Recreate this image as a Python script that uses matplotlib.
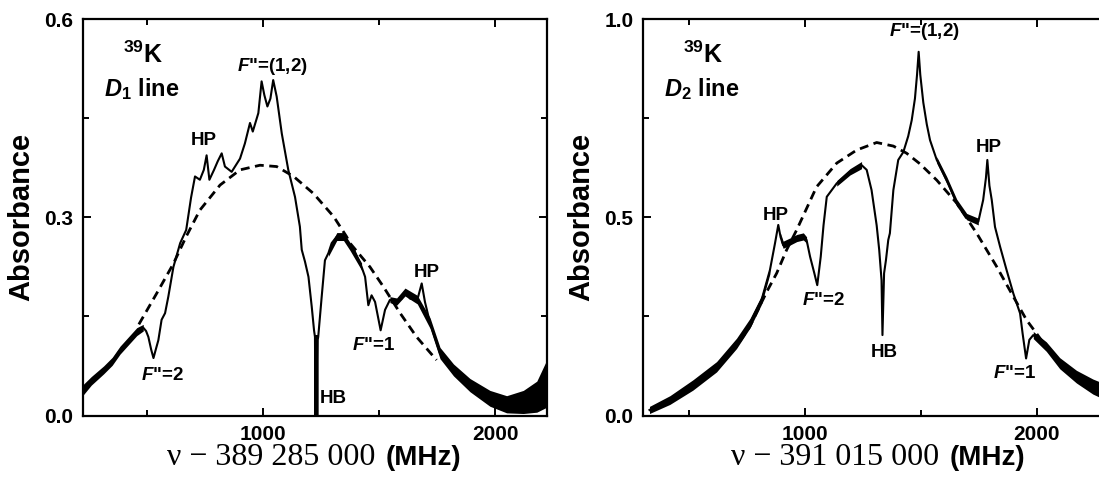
import matplotlib
matplotlib.use("Agg")
import matplotlib.pyplot as plt
from matplotlib.ticker import FixedLocator, FormatStrFormatter

# ---------------- D1 line (left panel) ----------------
d1_x = [225, 260, 313, 350, 384, 420, 456, 470, 484, 496, 506, 518, 528, 538, 549,
        563, 578, 592, 614, 643, 669, 690, 707, 728, 745, 757, 769, 789, 805, 822,
        836, 865, 901, 922, 944, 956, 980, 994, 1006, 1019, 1032, 1044, 1059, 1081,
        1109, 1138, 1159, 1167, 1181, 1196, 1210, 1220, 1224, 1226, 1228, 1230, 1232,
        1234, 1236, 1238, 1253, 1267, 1282, 1296, 1318, 1347, 1375, 1390, 1425, 1440,
        1454, 1468, 1483, 1507, 1526, 1547, 1576, 1598, 1612, 1634, 1665, 1684, 1698,
        1720, 1763, 1821, 1892, 1978, 2050, 2122, 2180, 2220]
d1_y = [0.039, 0.052, 0.069, 0.082, 0.099, 0.113, 0.127, 0.131, 0.133, 0.128, 0.119,
        0.100, 0.087, 0.100, 0.114, 0.145, 0.155, 0.180, 0.225, 0.261, 0.281, 0.330,
        0.362, 0.357, 0.372, 0.394, 0.357, 0.372, 0.385, 0.397, 0.377, 0.369, 0.389,
        0.412, 0.443, 0.430, 0.458, 0.506, 0.485, 0.468, 0.480, 0.508, 0.483, 0.427,
        0.372, 0.331, 0.286, 0.251, 0.233, 0.210, 0.165, 0.129, 0.119, 0.0, 0.120,
        0.0, 0.120, 0.0, 0.115, 0.119, 0.180, 0.235, 0.246, 0.261, 0.271, 0.271,
        0.256, 0.253, 0.225, 0.210, 0.167, 0.182, 0.172, 0.129, 0.160, 0.175, 0.172,
        0.177, 0.187, 0.177, 0.175, 0.200, 0.172, 0.140, 0.094, 0.069, 0.046, 0.026,
        0.016, 0.021, 0.028, 0.051]

# Doppler profile (dashed)
d1_fit_x = [465, 542, 614, 669, 728, 815, 901, 987, 1059, 1132, 1218, 1305, 1360,
            1375, 1461, 1519, 1591, 1662, 1748]
d1_fit_y = [0.138, 0.185, 0.230, 0.271, 0.311, 0.349, 0.372, 0.379, 0.377, 0.362,
            0.336, 0.301, 0.271, 0.261, 0.225, 0.195, 0.155, 0.119, 0.084]

# noise envelope
d1_noise = [
    ([225, 260, 313, 350, 384, 420, 456, 484],
     [0.031, 0.046, 0.063, 0.076, 0.093, 0.107, 0.121, 0.128],
     [0.047, 0.059, 0.075, 0.088, 0.105, 0.119, 0.133, 0.138]),
    ([1222, 1237],
     [0.0, 0.0],
     [0.12, 0.12]),
    ([1282, 1318, 1347, 1375, 1425],
     [0.241, 0.265, 0.265, 0.250, 0.220],
     [0.252, 0.277, 0.277, 0.262, 0.231]),
    ([1547, 1576, 1612, 1665, 1720, 1763, 1821, 1892, 1978, 2050, 2122, 2180, 2220],
     [0.171, 0.167, 0.181, 0.169, 0.132, 0.086, 0.060, 0.036, 0.014, 0.004, 0.003, 0.005, 0.012],
     [0.180, 0.178, 0.193, 0.182, 0.148, 0.103, 0.078, 0.056, 0.038, 0.030, 0.038, 0.052, 0.082]),
]

# ---------------- D2 line (right panel) ----------------
d2_x = [330, 418, 517, 619, 705, 763, 813, 849, 871, 885, 895, 906, 935, 965, 993,
        1007, 1022, 1040, 1053, 1068, 1080, 1094, 1137, 1194, 1244, 1266, 1287, 1309,
        1320, 1330, 1334, 1341, 1349, 1359, 1366, 1381, 1402, 1424, 1445, 1460, 1474,
        1483, 1490, 1497, 1510, 1525, 1539, 1568, 1611, 1654, 1697, 1747, 1768, 1780,
        1786, 1795, 1805, 1819, 1841, 1869, 1898, 1927, 1938, 1953, 1967, 1984, 2040,
        2098, 2170, 2241, 2300]
d2_y = [0.014, 0.039, 0.077, 0.123, 0.182, 0.233, 0.292, 0.367, 0.435, 0.481, 0.450,
        0.430, 0.438, 0.447, 0.451, 0.443, 0.401, 0.360, 0.329, 0.401, 0.480, 0.552,
        0.586, 0.615, 0.632, 0.620, 0.569, 0.480, 0.418, 0.342, 0.203, 0.359, 0.392,
        0.443, 0.460, 0.569, 0.645, 0.665, 0.705, 0.745, 0.800, 0.860, 0.918, 0.860,
        0.790, 0.735, 0.695, 0.645, 0.594, 0.536, 0.502, 0.489, 0.544, 0.600, 0.645,
        0.580, 0.544, 0.476, 0.426, 0.367, 0.308, 0.258, 0.207, 0.144, 0.191, 0.203,
        0.174, 0.132, 0.098, 0.073, 0.058]

d2_fit_x = [330, 418, 517, 619, 705, 763, 835, 878, 921, 964, 1050, 1137, 1223, 1309,
            1381, 1438, 1496, 1568, 1654, 1740, 1826, 1898, 1955, 1998, 2050]
d2_fit_y = [0.012, 0.036, 0.072, 0.118, 0.175, 0.225, 0.312, 0.359, 0.418, 0.468,
            0.577, 0.637, 0.670, 0.689, 0.680, 0.662, 0.635, 0.594, 0.536, 0.460,
            0.376, 0.300, 0.241, 0.207, 0.165]

d2_noise = [
    ([330, 418, 517, 619, 705, 763, 813, 849],
     [0.005, 0.028, 0.064, 0.110, 0.169, 0.221, 0.281, 0.358],
     [0.023, 0.050, 0.090, 0.136, 0.195, 0.245, 0.303, 0.376]),
    ([895, 906, 935, 965, 993, 1007],
     [0.440, 0.422, 0.430, 0.439, 0.443, 0.435],
     [0.460, 0.440, 0.448, 0.457, 0.461, 0.451]),
    ([1137, 1194, 1244],
     [0.579, 0.607, 0.623],
     [0.593, 0.623, 0.641]),
    ([1568, 1611, 1654, 1697, 1747],
     [0.637, 0.585, 0.528, 0.494, 0.481],
     [0.653, 0.603, 0.546, 0.510, 0.498]),
    ([1984, 2040, 2098, 2170, 2241, 2300],
     [0.194, 0.162, 0.118, 0.082, 0.054, 0.038],
     [0.212, 0.186, 0.146, 0.114, 0.092, 0.078]),
]

# labels (text, x, y)
d1_labels = [(r'$\mathit{F}$"=(1,2)', 1041, 0.521), ('HP', 745, 0.410),
             ('HP', 1706, 0.210), (r'$\mathit{F}$"=2', 565, 0.054),
             (r'$\mathit{F}$"=1', 1476, 0.099), ('HB', 1303, 0.019)]
d2_labels = [(r'$\mathit{F}$"=(1,2)', 1516, 0.957), ('HP', 874, 0.493),
             ('HP', 1790, 0.666), (r'$\mathit{F}$"=2', 1079, 0.279),
             ('HB', 1341, 0.148), (r'$\mathit{F}$"=1', 1905, 0.094)]

plt.rcParams['font.family'] = ['Liberation Sans', 'DejaVu Sans']
plt.rcParams['font.weight'] = 'bold'
plt.rcParams['mathtext.fontset'] = 'custom'
plt.rcParams['mathtext.rm'] = 'Liberation Sans:bold'
plt.rcParams['mathtext.bf'] = 'Liberation Sans:bold'
plt.rcParams['mathtext.it'] = 'Liberation Sans:italic:bold'

W, H = 1099, 479
fig = plt.figure(figsize=(W / 100, H / 100), dpi=100)

panels = [
    dict(pos=[82.7 / W, 63.5 / H, 464.3 / W, 396.2 / H], xlim=(223, 2224),
         ylim=(0, 0.6), yticks=[0, 0.3, 0.6], yminor=[0.15, 0.45],
         x=d1_x, y=d1_y, fx=d1_fit_x, fy=d1_fit_y, noise=d1_noise,
         labels=d1_labels, line=r'$\mathit{D}_1$ line',
         xl=('ν − 389 285 000', 375, 385.5)),
    dict(pos=[643 / W, 63.5 / H, 464.3 / W, 396.2 / H], xlim=(302, 2303),
         ylim=(0, 1.0), yticks=[0, 0.5, 1.0], yminor=[0.25, 0.75],
         x=d2_x, y=d2_y, fx=d2_fit_x, fy=d2_fit_y, noise=d2_noise,
         labels=d2_labels, line=r'$\mathit{D}_2$ line',
         xl=('ν − 391 015 000', 939, 949.7)),
]

for p in panels:
    ax = fig.add_axes(p['pos'])
    for bx, lo, hi in p['noise']:
        ax.fill_between(bx, lo, hi, color='black', lw=0)
    ax.plot(p['x'], p['y'], color='black', lw=1.5)
    ax.plot(p['fx'], p['fy'], color='black', lw=2.0, ls=(0, (3.2, 2.0)))

    ax.set_xlim(*p['xlim'])
    ax.set_ylim(*p['ylim'])
    ax.xaxis.set_major_locator(FixedLocator([1000, 2000]))
    ax.xaxis.set_minor_locator(FixedLocator([500, 1500]))
    ax.yaxis.set_major_locator(FixedLocator(p['yticks']))
    ax.yaxis.set_minor_locator(FixedLocator(p['yminor']))
    ax.yaxis.set_major_formatter(FormatStrFormatter('%.1f'))
    ax.tick_params(which='both', direction='in', top=True, right=True, width=1.4)
    ax.tick_params(which='major', length=5.5, labelsize=15)
    ax.tick_params(axis='x', which='major', pad=7)
    ax.tick_params(axis='y', which='major', pad=7)
    ax.tick_params(which='minor', length=4)
    for s in ax.spines.values():
        s.set_linewidth(1.6)

    ax.text(-0.132, 0.5, 'Absorbance', transform=ax.transAxes, rotation=90,
            ha='center', va='center', fontsize=21, fontweight='bold')

    ax.text(0.086, 0.889, r'$^{39}$K', transform=ax.transAxes, fontsize=18,
            va='baseline', ha='left')
    ax.text(0.045, 0.805, p['line'], transform=ax.transAxes, fontsize=17,
            va='baseline', ha='left')

    for txt, lx, ly in p['labels']:
        ax.text(lx, ly, txt, ha='center', va='baseline', fontsize=13.5)

    serif, x_end, x_start = p['xl']
    fig.text(x_end / W, 1 - 465 / H, serif, ha='right', va='baseline',
             family='Liberation Serif', fontweight='normal', fontsize=23)
    fig.text(x_start / W, 1 - 465 / H, '(MHz)', ha='left', va='baseline',
             fontsize=20, fontweight='bold')

fig.savefig('out.png', dpi=100)
